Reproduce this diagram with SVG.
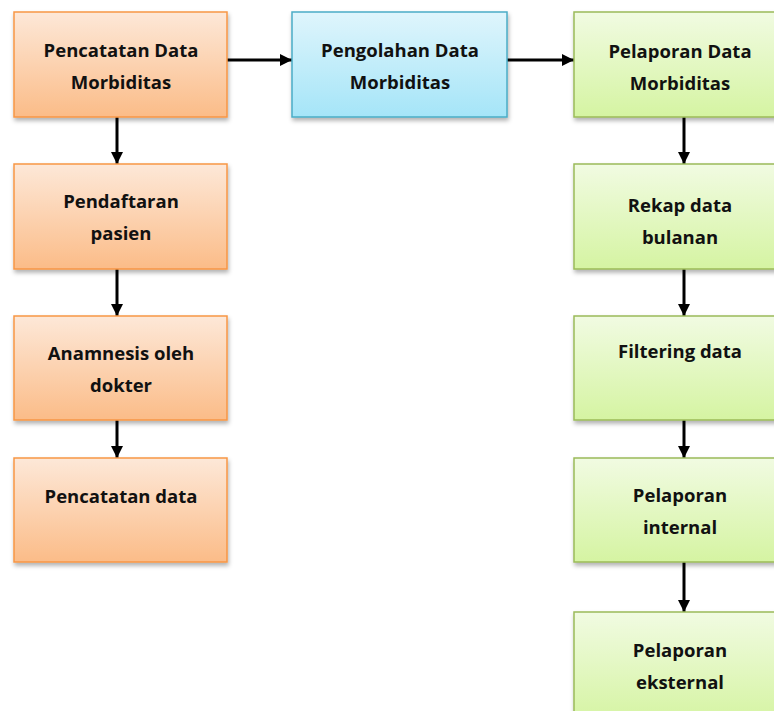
<svg xmlns="http://www.w3.org/2000/svg" width="774" height="711" viewBox="0 0 774 711">
<defs>
<linearGradient id="gO" x1="0" y1="0" x2="0" y2="1"><stop offset="0" stop-color="#fde8d8"/><stop offset="1" stop-color="#fbbc88"/></linearGradient>
<linearGradient id="gB" x1="0" y1="0" x2="0" y2="1"><stop offset="0" stop-color="#dff5fc"/><stop offset="1" stop-color="#a5e5f8"/></linearGradient>
<linearGradient id="gG" x1="0" y1="0" x2="0" y2="1"><stop offset="0" stop-color="#f1fbe2"/><stop offset="1" stop-color="#d5f4a2"/></linearGradient>
<filter id="sh" x="-10%" y="-10%" width="125%" height="130%"><feDropShadow dx="1" dy="3" stdDeviation="2" flood-color="#000" flood-opacity="0.3"/></filter>
<marker id="ah" viewBox="0 0 10 10" refX="10" refY="5" markerWidth="4" markerHeight="4" orient="auto" markerUnits="strokeWidth"><path d="M0,0 L10,5 L0,10 z" fill="#000"/></marker>
</defs>
<style>
.o{fill:url(#gO);stroke:#f79646;stroke-width:1.5;filter:url(#sh)}
.b{fill:url(#gB);stroke:#4bacc6;stroke-width:1.5;filter:url(#sh)}
.g{fill:url(#gG);stroke:#9bbb59;stroke-width:1.5;filter:url(#sh)}
text{font-family:"Open Sans","Liberation Sans",sans-serif;font-weight:bold;font-size:18.5px;fill:#111;text-anchor:middle}
.c{stroke:#000;stroke-width:3;fill:none;marker-end:url(#ah)}
</style>
<rect width="774" height="711" fill="#fff"/>
<g id="connectors">
<line class="c" x1="227" y1="60" x2="292" y2="60"/>
<line class="c" x1="507" y1="60" x2="574" y2="60"/>
<line class="c" x1="117" y1="117" x2="117" y2="164"/>
<line class="c" x1="117" y1="269" x2="117" y2="316"/>
<line class="c" x1="117" y1="420" x2="117" y2="458"/>
<line class="c" x1="684" y1="117" x2="684" y2="164"/>
<line class="c" x1="684" y1="269" x2="684" y2="316"/>
<line class="c" x1="684" y1="420" x2="684" y2="458"/>
<line class="c" x1="684" y1="562" x2="684" y2="612"/>
</g>
<g id="n1"><rect class="o" x="14" y="12" width="213" height="105"/><text x="121" y="57">Pencatatan Data</text><text x="121" y="89">Morbiditas</text></g>
<g id="n2"><rect class="o" x="14" y="164" width="213" height="105"/><text x="121" y="208">Pendaftaran</text><text x="121" y="240">pasien</text></g>
<g id="n3"><rect class="o" x="14" y="316" width="213" height="104"/><text x="121" y="360">Anamnesis oleh</text><text x="121" y="392">dokter</text></g>
<g id="n4"><rect class="o" x="14" y="458" width="213" height="104"/><text x="121" y="503">Pencatatan data</text></g>
<g id="n5"><rect class="b" x="292" y="12" width="215" height="105"/><text x="400" y="57">Pengolahan Data</text><text x="400" y="89">Morbiditas</text></g>
<g id="n6"><rect class="g" x="574" y="12" width="213" height="105"/><text x="680" y="58">Pelaporan Data</text><text x="680" y="90">Morbiditas</text></g>
<g id="n7"><rect class="g" x="574" y="164" width="213" height="105"/><text x="680" y="212">Rekap data</text><text x="680" y="244">bulanan</text></g>
<g id="n8"><rect class="g" x="574" y="316" width="213" height="104"/><text x="680" y="358">Filtering data</text></g>
<g id="n9"><rect class="g" x="574" y="458" width="213" height="104"/><text x="680" y="502">Pelaporan</text><text x="680" y="534">internal</text></g>
<g id="n10"><rect class="g" x="574" y="612" width="213" height="110"/><text x="680" y="657">Pelaporan</text><text x="680" y="689">eksternal</text></g>
</svg>
